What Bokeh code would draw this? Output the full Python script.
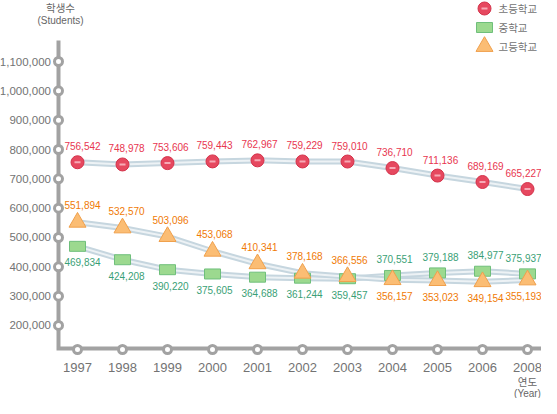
from bokeh.plotting import figure
from bokeh.models import Range1d, ColumnDataSource
from bokeh.core.properties import value
from bokeh.embed import file_html
from bokeh.resources import INLINE

# ---------------- data ----------------
years = ["1997", "1998", "1999", "2000", "2001", "2002", "2003", "2004", "2005", "2006", "2008"]
elementary = [756542, 748978, 753606, 759443, 762967, 759229, 759010, 736710, 711136, 689169, 665227]
middle = [469834, 424208, 390220, 375605, 364688, 361244, 359457, 370551, 379188, 384977, 375937]
high = [551894, 532570, 503096, 453068, 410341, 378168, 366556, 356157, 353023, 349154, 355193]
y_tick_values = [200000, 300000, 400000, 500000, 600000, 700000, 800000, 900000, 1000000, 1100000]
series_names = ["초등학교", "중학교", "고등학교"]
y_title = ["학생수", "(Students)"]
x_title = ["연도", "(Year)"]

# ---------------- layout (pixels inside the figure) ----------------
W, H = 541, 398
CAT0_PX, CAT_STEP_PX = 77, 45          # x pixel of first category, spacing
REF_VALUE, REF_PX, PX_PER_100K = 800000, 149, 29.33


def xd(px):
    return (px - CAT0_PX) / CAT_STEP_PX


def yd(py):
    return REF_VALUE + (REF_PX - py) * 100000 / PX_PER_100K


n = len(years)
idx = list(range(n))

RED, GREEN, ORANGE = "#e8364f", "#3a9f76", "#f07a05"
GRAY_AXIS, GRAY_TEXT = "#a2a2a2", "#737373"
LATIN = value("Liberation Sans")
KOREAN = value("Noto Sans CJK KR")

p = figure(width=W, height=H,
           x_range=Range1d(xd(0), xd(W)), y_range=Range1d(yd(H), yd(0)),
           output_backend="svg", toolbar_location=None, tools="",
           x_axis_location=None, y_axis_location=None,
           min_border=0, outline_line_color=None,
           background_fill_color="white", border_fill_color="white")
for g in p.grid:
    g.visible = False

# ---- axes (drawn lines with ring ticks) ----
AX_X, AX_TOP, AX_BOTTOM, AX_RIGHT = 58, 40, 348, 545
p.line([xd(AX_X), xd(AX_X), xd(AX_RIGHT)], [yd(AX_TOP), yd(AX_BOTTOM), yd(AX_BOTTOM)],
       line_width=4, line_color=GRAY_AXIS, line_join="miter")
p.scatter([xd(AX_X)] * len(y_tick_values), y_tick_values, marker="circle", size=8,
          fill_color="white", line_color=GRAY_AXIS, line_width=3)
p.scatter(idx, [yd(AX_BOTTOM + 1)] * n, marker="circle", size=8,
          fill_color="white", line_color=GRAY_AXIS, line_width=3)

p.text([xd(50.5)] * len(y_tick_values), y_tick_values,
       text=[f"{v:,}" for v in y_tick_values],
       text_align="right", text_baseline="middle", text_font=LATIN,
       text_font_size=value("11.5px"), text_color=GRAY_TEXT)
p.text(idx, [yd(367)] * n, text=years, text_align="center", text_baseline="middle",
       text_font=LATIN, text_font_size=value("13px"), text_color=GRAY_TEXT)

# axis titles
p.text([xd(60)], [yd(7)], text=[y_title[0]], text_align="center", text_baseline="middle",
       text_font=KOREAN, text_font_size=value("10.5px"), text_color="#666666")
p.text([xd(60)], [yd(20)], text=[y_title[1]], text_align="center", text_baseline="middle",
       text_font=LATIN, text_font_size=value("10px"), text_color="#666666")
p.text([xd(527)], [yd(381)], text=[x_title[0]], text_align="center", text_baseline="middle",
       text_font=KOREAN, text_font_size=value("10.5px"), text_color="#666666")
p.text([xd(527)], [yd(393)], text=[x_title[1]], text_align="center", text_baseline="middle",
       text_font=LATIN, text_font_size=value("10px"), text_color="#666666")

# ---- series lines ----
for vals in (elementary, middle, high):
    p.line(idx, vals, line_width=6, line_color="#c6d6df", line_join="round")
    p.line(idx, vals, line_width=2, line_color="#edf2f5", line_join="round")

# ---- markers ----
p.scatter(idx, elementary, marker="circle", size=13, fill_color="#e6485f",
          line_color="#d4324a", line_width=1)
p.scatter(idx, elementary, marker="dash", size=6, line_color="#f7a9b5", line_width=2)
p.rect(idx, middle, width=16, height=10, width_units="screen", height_units="screen",
       fill_color="#9cd98f", line_color="#6fbf7b", line_width=1)
p.scatter(idx, high, marker="triangle", size=17, fill_color="#fbbd74",
          line_color="#f0a04c", line_width=1)

# ---- value labels ----
label_dx = [5, 4, 3, 2, 2, 2, 2, 2, 3, 3, -4]
split = years.index("2004")
elem_dy = [-16] * n
mid_dy = [16 if i < split else -16 for i in idx]
high_dy = [-17 if i < split else 16 for i in idx]

for vals, dys, col in ((elementary, elem_dy, RED), (middle, mid_dy, GREEN), (high, high_dy, ORANGE)):
    src = ColumnDataSource(dict(x=idx, y=vals, t=[f"{v:,}" for v in vals], dx=label_dx, dy=dys))
    p.text(x="x", y="y", text="t", x_offset="dx", y_offset="dy", source=src,
           text_align="center", text_baseline="middle", text_font=LATIN,
           text_font_size=value("10px"), text_color=col)

# ---- legend ----
LEG_MX, LEG_TX = 484, 498
leg_y = [8, 27, 46]
p.scatter([xd(LEG_MX)], [yd(leg_y[0])], marker="circle", size=13, fill_color="#e6485f",
          line_color="#d4324a", line_width=1)
p.scatter([xd(LEG_MX)], [yd(leg_y[0])], marker="dash", size=6, line_color="#f7a9b5", line_width=2)
p.rect([xd(LEG_MX)], [yd(leg_y[1])], width=16, height=10, width_units="screen",
       height_units="screen", fill_color="#9cd98f", line_color="#6fbf7b", line_width=1)
p.scatter([xd(LEG_MX)], [yd(leg_y[2])], marker="triangle", size=17, fill_color="#fbbd74",
          line_color="#f0a04c", line_width=1)
p.text([xd(LEG_TX)] * 3, [yd(v) for v in leg_y], text=series_names, text_align="left",
       text_baseline="middle", text_font=KOREAN, text_font_size=value("10.5px"),
       text_color=GRAY_TEXT)

open("out.html", "w").write(file_html(p, INLINE))
